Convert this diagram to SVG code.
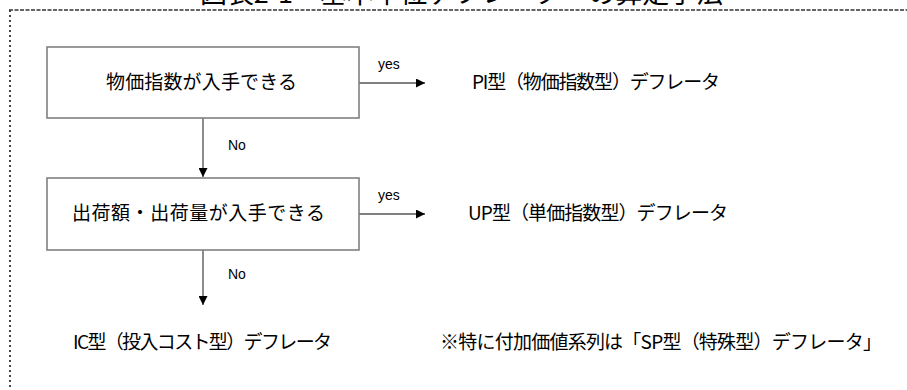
<svg xmlns="http://www.w3.org/2000/svg" width="907" height="390" viewBox="0 0 907 390">
<defs>
<style>
.jp{font-family:"Noto Sans CJK JP","Liberation Sans",sans-serif;fill:#000;}
.lab{font-family:"Liberation Sans",Arial,sans-serif;font-size:14px;fill:#000;}
.box{fill:#fff;stroke:#808080;stroke-width:1.6;}
.conn{stroke:#000;stroke-width:1.2;fill:none;}
.vconn{stroke:#666;stroke-width:1.5;fill:none;}
</style>
<marker id="ah" viewBox="0 0 10 10" refX="10" refY="5" markerUnits="userSpaceOnUse" markerWidth="10" markerHeight="9" orient="auto">
<path d="M0,0 L10,5 L0,10 Z" fill="#000"/>
</marker>
</defs>
<rect width="907" height="390" fill="#fff"/>
<g id="frame">
<line x1="9" y1="10" x2="907" y2="10" stroke="#333" stroke-width="1.3" stroke-dasharray="4 1.5"/>
<line x1="10" y1="10" x2="10" y2="390" stroke="#333" stroke-width="1.8" stroke-dasharray="2 3"/>
</g>
<g id="title">
<text class="jp" x="200" y="3" font-size="27" textLength="523" lengthAdjust="spacing">図表2-1　基本単位デフレーターの算定手法</text>
</g>
<g id="connectors">
<line class="conn" x1="359" y1="83" x2="425" y2="83" marker-end="url(#ah)"/>
<line class="conn" x1="359" y1="214" x2="425" y2="214" marker-end="url(#ah)"/>
<line class="vconn" x1="203" y1="118" x2="203" y2="177" marker-end="url(#ah)"/>
<line class="vconn" x1="203" y1="250" x2="203" y2="305" marker-end="url(#ah)"/>
<text class="lab" x="378" y="69">yes</text>
<text class="lab" x="378" y="200">yes</text>
<text class="lab" x="228" y="150">No</text>
<text class="lab" x="228" y="279">No</text>
</g>
<g id="node-price-index">
<rect class="box" x="47" y="47" width="312" height="71"/>
<text class="jp" x="106" y="89" font-size="19" textLength="191" lengthAdjust="spacing">物価指数が入手できる</text>
</g>
<g id="node-shipment">
<rect class="box" x="47" y="178" width="312" height="72"/>
<text class="jp" x="72" y="220" font-size="19" textLength="253" lengthAdjust="spacing">出荷額・出荷量が入手できる</text>
</g>
<g id="node-pi">
<text class="jp" x="472" y="89" font-size="19" textLength="248" lengthAdjust="spacing">PI型（物価指数型）デフレータ</text>
</g>
<g id="node-up">
<text class="jp" x="468" y="220" font-size="19" textLength="260" lengthAdjust="spacing">UP型（単価指数型）デフレータ</text>
</g>
<g id="node-ic">
<text class="jp" x="73" y="349" font-size="19" textLength="259" lengthAdjust="spacing">IC型（投入コスト型）デフレータ</text>
</g>
<g id="note">
<text class="jp" x="440" y="349" font-size="19" textLength="442" lengthAdjust="spacing">※特に付加価値系列は「SP型（特殊型）デフレータ」</text>
</g>
</svg>
